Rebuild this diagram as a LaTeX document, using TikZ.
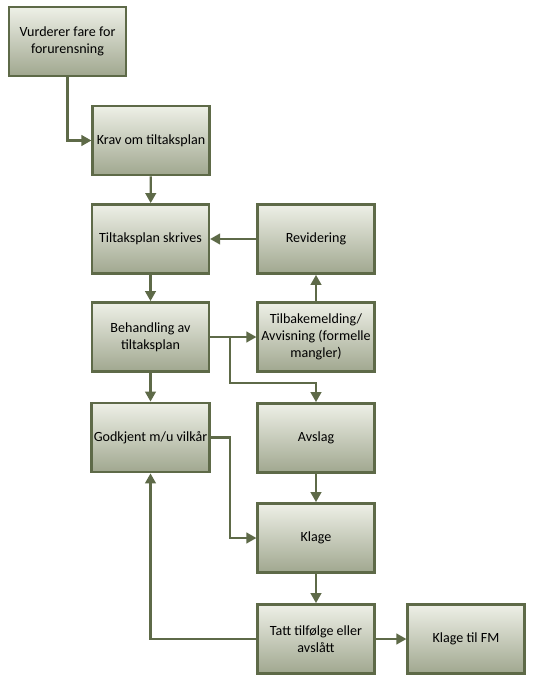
\documentclass[tikz,border=0pt]{standalone}
\usepackage{fontspec}
\setmainfont{Carlito}
\usepackage{tikz}
\usetikzlibrary{arrows.meta}
\definecolor{olivekant}{RGB}{94,106,72}
\definecolor{lystopp}{RGB}{238,240,231}
\definecolor{mørkbunn}{RGB}{160,167,143}

\tikzset{
  boks/.style={rectangle, draw=olivekant, line width=2.1pt, top color=lystopp, bottom color=mørkbunn,
    minimum width=3.5cm, minimum height=2.08cm, align=center, inner sep=2pt,
    font=\fontsize{12}{14.5}\selectfont},
  pil/.style={draw=olivekant, line width=1.9pt, -{Triangle[length=8.5pt,width=9pt]}}
}

\begin{document}
\begin{tikzpicture}[x=0.03cm, y=-0.03cm]
    % Fix the page size to the reference
    \useasboundingbox (0,0) rectangle (538,686);

    % Left column
    \node[boks] (vurder) at (67.5,41.5) {Vurderer fare for\\forurensning};
    \node[boks] (krav) at (151,140.5) {Krav om tiltaksplan};
    \node[boks] (skrives) at (150.5,239) {Tiltaksplan skrives};
    \node[boks] (behandl) at (150.5,337) {Behandling av\\tiltaksplan};
    \node[boks] (godkjent) at (150.5,437.5) {Godkjent m/u vilkår};

    % Right column
    \node[boks] (revider) at (316,239) {Revidering};
    \node[boks] (tilbake) at (316,337) {Tilbakemelding/\\Avvisning (formelle\\mangler)};
    \node[boks] (avslag) at (316,438) {Avslag};
    \node[boks] (klage) at (316,538) {Klage};
    \node[boks] (tatt) at (316,639) {Tatt tilfølge eller\\avslått};
    \node[boks] (klagefm) at (466,639) {Klage til FM};

    % Bend points
    \coordinate (split) at (230,337);
    \coordinate (bend) at (230,383);
    \coordinate (knee) at (230,437.5);

    % Connect the boxes
    \draw[pil] (vurder.south) |- (krav.west);
    \draw[pil] (krav) -- (skrives);
    \draw[pil] (revider) -- (skrives);
    \draw[pil] (skrives) -- (behandl);
    \draw[pil] (behandl) -- (tilbake);
    \draw[pil] (split) -- (bend) -| (avslag.north);
    \draw[pil] (tilbake) -- (revider);
    \draw[pil] (behandl) -- (godkjent);
    \draw[pil] (godkjent.east) -- (knee) |- (klage.west);
    \draw[pil] (avslag) -- (klage);
    \draw[pil] (klage) -- (tatt);
    \draw[pil] (tatt.west) -| (godkjent.south);
    \draw[pil] (tatt) -- (klagefm);
\end{tikzpicture}
\end{document}
